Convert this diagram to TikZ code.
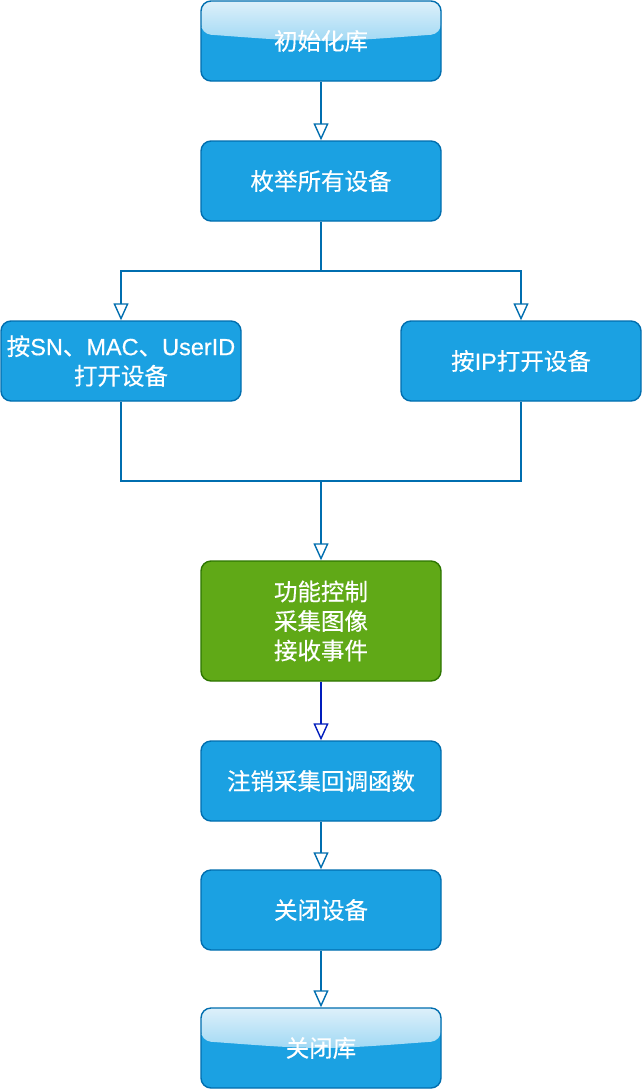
\documentclass[tikz,border=0pt]{standalone}
\usepackage{fontspec}
\newfontfamily\cjk[FakeBold=0.4]{Noto Sans CJK SC}
\newfontfamily\lat[FakeBold=0.4]{Liberation Sans}
\usetikzlibrary{arrows.meta}
\definecolor{fillblue}{HTML}{1BA1E2}
\definecolor{strokeblue}{HTML}{006EAF}
\definecolor{fillgreen}{HTML}{60A917}
\definecolor{strokegreen}{HTML}{2D7600}
\definecolor{darkarrow}{HTML}{001DBC}
\definecolor{glosstop}{HTML}{DDF0FA}
\definecolor{glossbot}{HTML}{66C2EE}
\tikzset{
  box/.style={draw=strokeblue, fill=fillblue, rounded corners=10pt, line width=1.4pt,
    minimum width=240pt, minimum height=80pt, inner sep=0pt, text=white, align=center,
    font=\cjk\fontsize{23.5}{29.5}\selectfont},
  greenbox/.style={box, draw=strokegreen, fill=fillgreen, minimum height=120pt},
  glossy/.style={box, path picture={
    \fill[top color=glosstop, bottom color=glossbot]
      (path picture bounding box.north west)
      -- ([yshift=-33pt]path picture bounding box.north west)
      .. controls ([yshift=-42pt]path picture bounding box.north) ..
      ([yshift=-33pt]path picture bounding box.north east)
      -- (path picture bounding box.north east) -- cycle;}},
  wire/.style={draw=strokeblue, line width=1.4pt},
  conn/.style={wire, -{Triangle[open, width=15pt, length=17pt, fill=white]}},
}
\begin{document}
\begin{tikzpicture}[x=1pt,y=1pt]
\useasboundingbox (0,0) rectangle (644,-1090);
\fill[white] (0,0) rectangle (644,-1090);
\node[glossy] (init) at (321,-41) {初始化库};
\node[box] (enum) at (321,-181) {枚举所有设备};
\node[box] (bysn) at (121,-361) {按{\lat SN}、{\lat MAC}、{\lat UserID}\\打开设备};
\node[box] (byip) at (521,-361) {按{\lat IP}打开设备};
\node[greenbox] (func) at (321,-621) {功能控制\\采集图像\\接收事件};
\node[box] (unreg) at (321,-781) {注销采集回调函数};
\node[box] (closedev) at (321,-910) {关闭设备};
\node[glossy] (closelib) at (321,-1048) {关闭库};
\coordinate (split) at (321,-271);
\coordinate (merge) at (321,-481);
\draw[conn] (init) -- (enum);
\draw[wire] (enum.south) -- (split);
\draw[conn] (split) -| (bysn.north);
\draw[conn] (split) -| (byip.north);
\draw[wire] (bysn.south) |- (merge);
\draw[wire] (byip.south) |- (merge);
\draw[conn] (merge) -- (func.north);
\draw[conn, draw=darkarrow] (func) -- (unreg);
\draw[conn] (unreg) -- (closedev);
\draw[conn] (closedev) -- (closelib);
\end{tikzpicture}
\end{document}
